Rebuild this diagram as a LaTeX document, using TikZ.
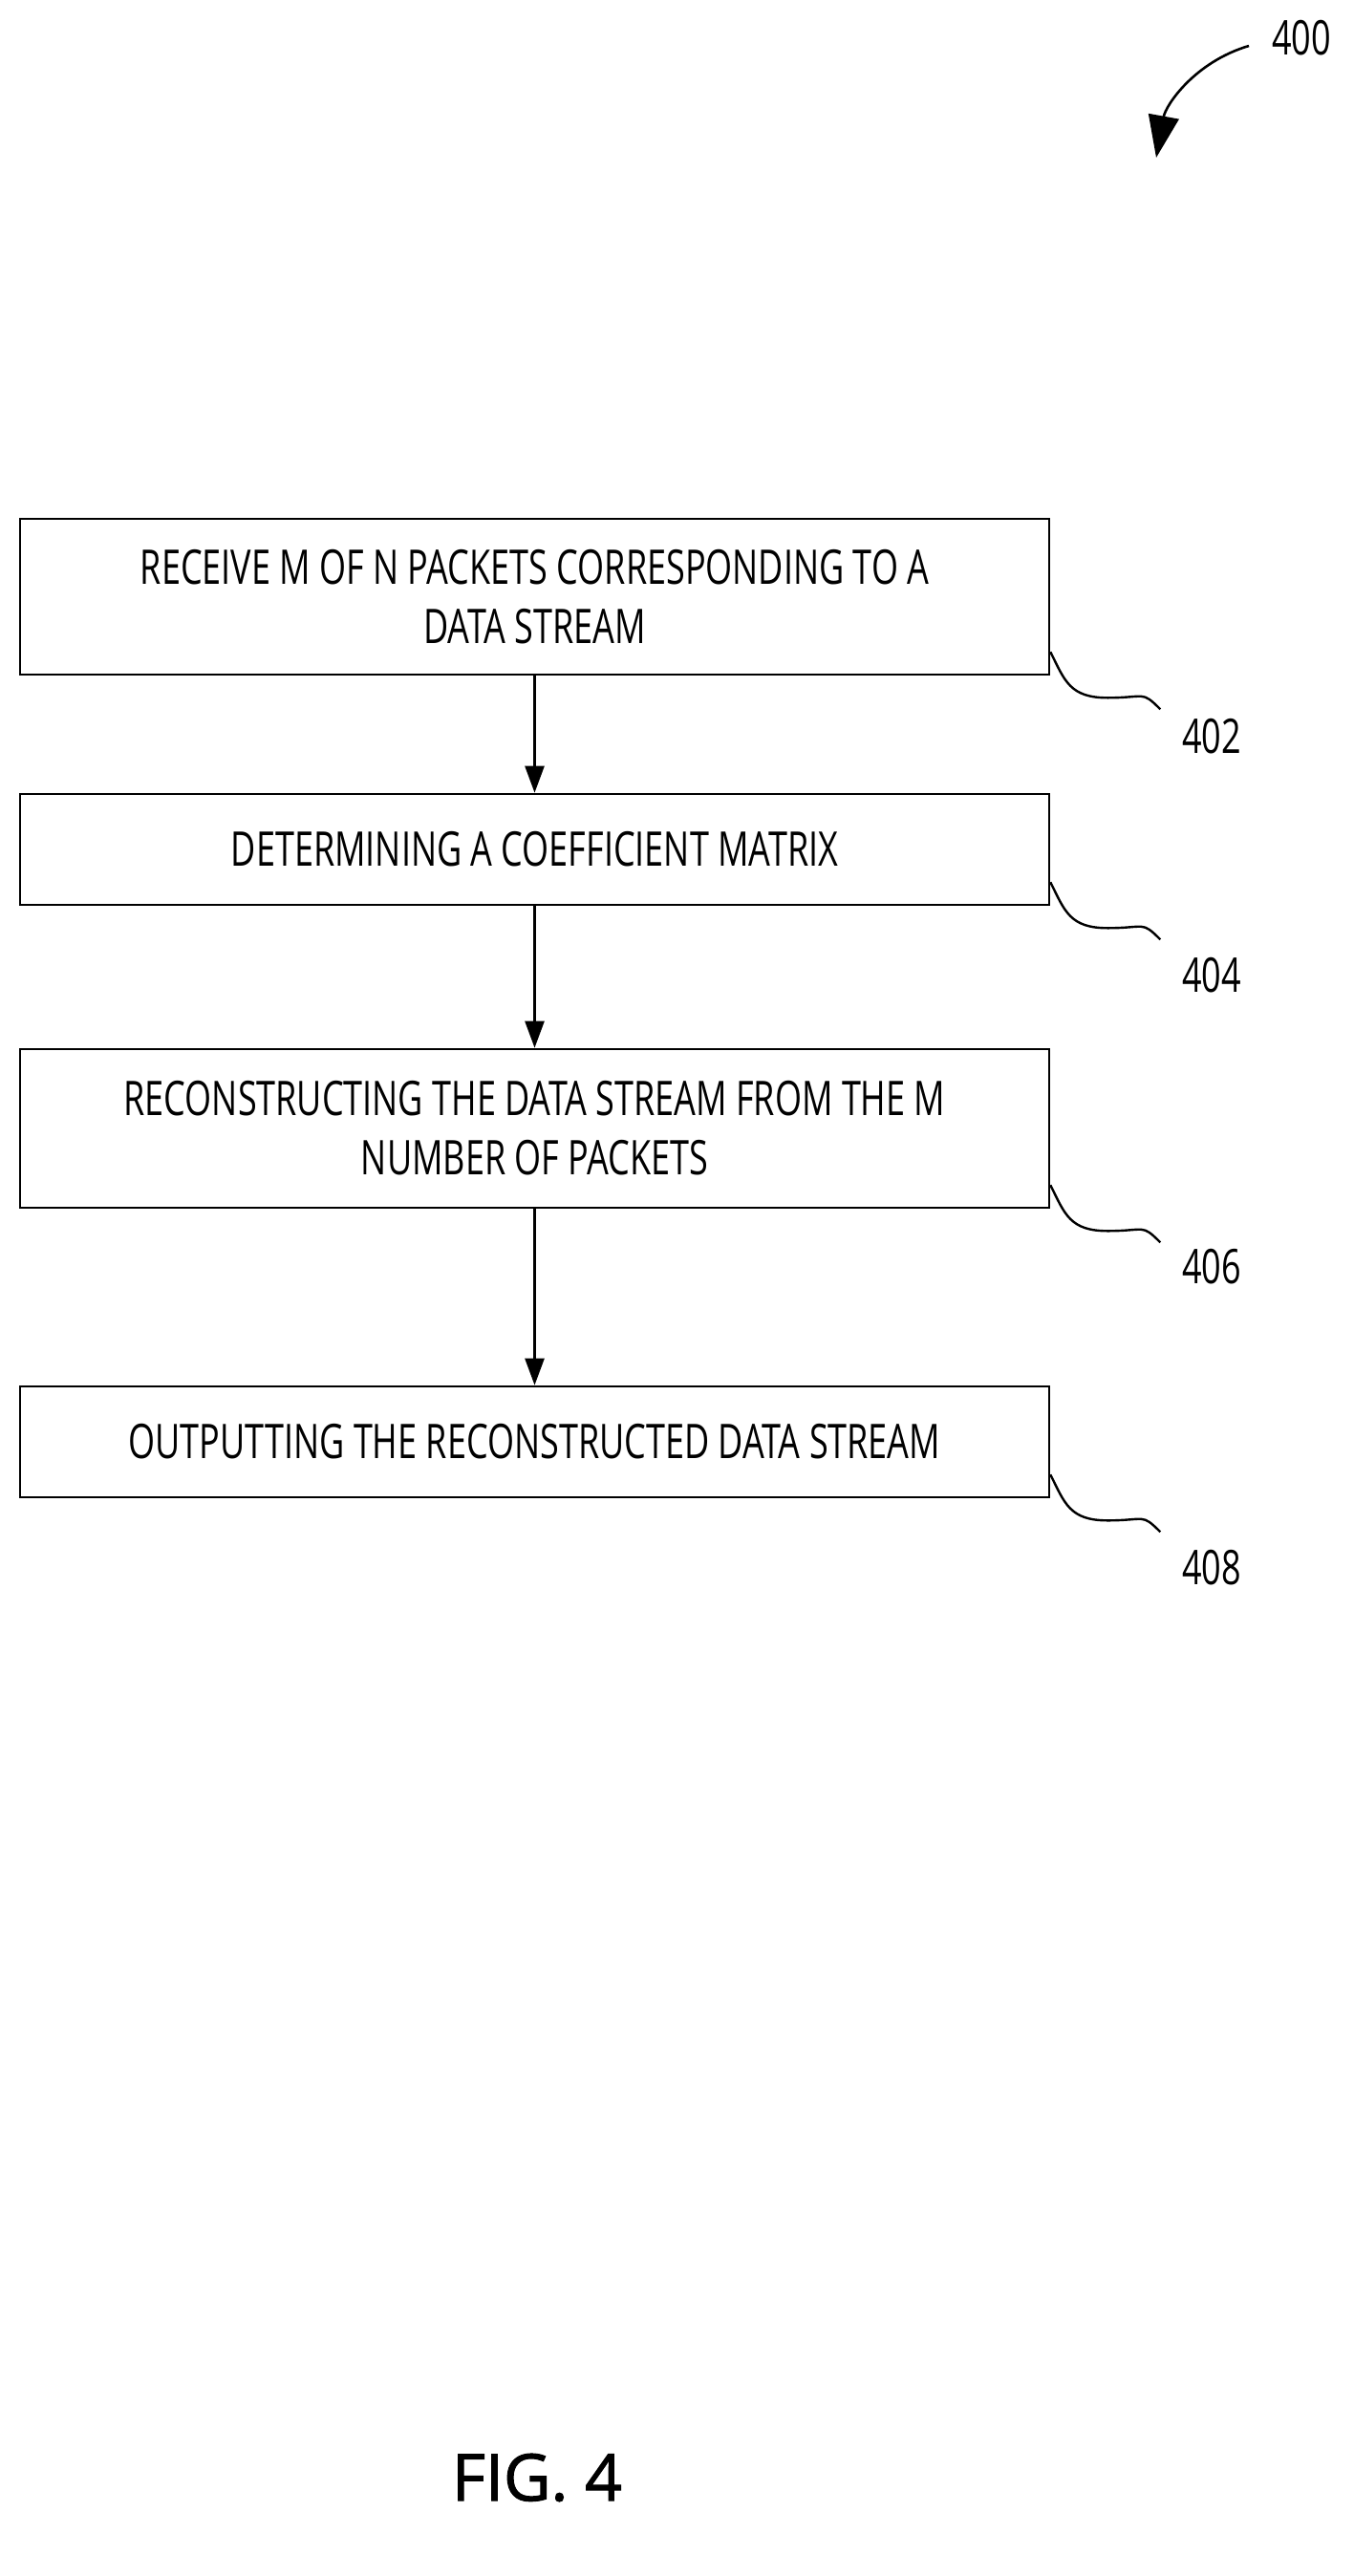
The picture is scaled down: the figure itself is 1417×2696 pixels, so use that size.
\documentclass[tikz,border=0pt]{standalone}
\usepackage{fontspec}
\setmainfont[FakeStretch=0.72]{Open Sans}
\newfontfamily\figfont[FakeBold=1.5]{Open Sans}
\usetikzlibrary{arrows.meta}
\begin{document}
\begin{tikzpicture}[x=0.5pt,y=-0.5pt,
  box/.style={draw,line width=1.3pt,inner sep=0pt,font=\fontsize{25}{31}\selectfont,align=center},
  lab/.style={font=\fontsize{25}{30}\selectfont},
  arr/.style={line width=1.3pt,-{Triangle[length=14pt,width=10pt]}},
  lead/.style={line width=1.2pt}]
\useasboundingbox (0,0) rectangle (1417,2696);
\path[use as bounding box] (0,0) rectangle (1417,2696);
\node[box,minimum width=1077pt*0.5,minimum height=163pt*0.5] (b1) at (559.5,624.5) {RECEIVE M OF N PACKETS CORRESPONDING TO A\\DATA STREAM};
\node[box,minimum width=1077pt*0.5,minimum height=116pt*0.5] (b2) at (559.5,889) {DETERMINING A COEFFICIENT MATRIX};
\node[box,minimum width=1077pt*0.5,minimum height=166pt*0.5] (b3) at (559.5,1181) {RECONSTRUCTING THE DATA STREAM FROM THE M\\NUMBER OF PACKETS};
\node[box,minimum width=1077pt*0.5,minimum height=116pt*0.5] (b4) at (559.5,1509) {OUTPUTTING THE RECONSTRUCTED DATA STREAM};
\draw[arr] (b1) -- (b2);
\draw[arr] (b2) -- (b3);
\draw[arr] (b3) -- (b4);
\foreach \b/\t/\y in {b1/402/771,b2/404/1021,b3/406/1326,b4/408/1641}{
  \node[lab] (l\t) at (1268,\y) {\t};
  \coordinate (s\t) at ([yshift=-25]\b.east);
  \draw[lead] (\b.south east) ++(0,-25) .. controls +(15,30) and +(-40,0) .. ++(60,48) .. controls +(40,0) and +(-20,-20) .. ++(55,12);
}
\node[lab] (l400) at (1362,40) {400};
\coordinate (a0) at (1307,48);
\draw[line width=1.3pt,-{Triangle[length=22pt,width=16pt]}] (a0) .. controls (1250,65) and (1220,110) .. (1210,165);
\node[font=\figfont\fontsize{34}{40}\selectfont] (fig) at (562,2593) {FIG. 4};
\end{tikzpicture}
\end{document}
